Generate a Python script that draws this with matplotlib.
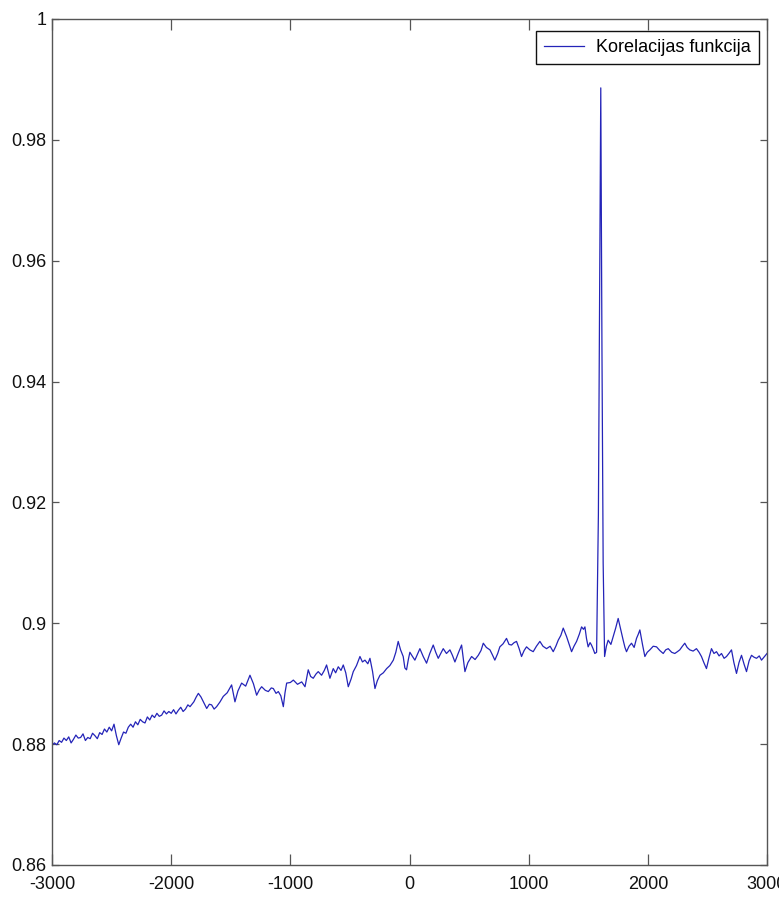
import matplotlib
matplotlib.use("Agg")
import matplotlib.pyplot as plt

plt.rcParams['font.family'] = ['Liberation Sans', 'DejaVu Sans']

# correlation function samples: lag and value, written in matching rows
lags = [
    -3000, -2980, -2960, -2940, -2920, -2900, -2880, -2860, -2840, -2820,
    -2800, -2780, -2760, -2740, -2720, -2700, -2680, -2660, -2640, -2620,
    -2600, -2580, -2560, -2540, -2520, -2500, -2480, -2460, -2440, -2420,
    -2400, -2380, -2360, -2340, -2320, -2300, -2280, -2260, -2240, -2220,
    -2200, -2180, -2160, -2140, -2120, -2100, -2080, -2060, -2040, -2020,
    -2000, -1980, -1960, -1940, -1920, -1900, -1880, -1860, -1842, -1810,
    -1790, -1772, -1750, -1725, -1702, -1680, -1661, -1640, -1619, -1590,
    -1563, -1530, -1493, -1465, -1440, -1409, -1375, -1339, -1310, -1283,
    -1260, -1241, -1210, -1185, -1160, -1143, -1120, -1101, -1080, -1059,
    -1045, -1031, -1000, -975, -940, -905, -877, -850, -830, -808,
    -785, -766, -738, -715, -696, -668, -640, -620, -598, -575,
    -556, -535, -514, -490, -472, -445, -416, -395, -374, -350,
    -332, -310, -290, -270, -248, -220, -192, -165, -136, -115,
    -95, -75, -53, -39, -25, -10, 3, 25, 45, 65,
    87, 115, 143, 170, 199, 220, 241, 262, 283, 310,
    339, 360, 381, 410, 437, 465, 490, 521, 550, 577,
    600, 619, 645, 675, 695, 716, 740, 758, 785, 814,
    835, 856, 878, 898, 920, 940, 962, 982, 1010, 1038,
    1065, 1094, 1120, 1150, 1180, 1206, 1228, 1248, 1270, 1290,
    1318, 1340, 1360, 1380, 1402, 1425, 1444, 1460, 1472, 1485,
    1499, 1515, 1527, 1540, 1555, 1570, 1585, 1595, 1605, 1615,
    1625, 1637, 1652, 1667, 1690, 1709, 1730, 1751, 1772, 1793,
    1808, 1821, 1842, 1863, 1885, 1905, 1920, 1933, 1955, 1975,
    1995, 2017, 2045, 2073, 2100, 2129, 2150, 2171, 2200, 2226,
    2248, 2268, 2290, 2310, 2330, 2352, 2380, 2408, 2430, 2450,
    2470, 2492, 2512, 2534, 2555, 2576, 2598, 2618, 2640, 2660,
    2680, 2702, 2722, 2744, 2765, 2786, 2808, 2828, 2850, 2870,
    2890, 2912, 2935, 2954, 2975, 3000,
]
corr = [
    0.8798, 0.8802, 0.8799, 0.8806, 0.8803, 0.8810, 0.8806, 0.8812, 0.8802, 0.8808,
    0.8815, 0.8810, 0.8811, 0.8817, 0.8806, 0.8811, 0.8809, 0.8818, 0.8814, 0.8809,
    0.8819, 0.8816, 0.8825, 0.8820, 0.8828, 0.8822, 0.8833, 0.8814, 0.8799, 0.8810,
    0.8820, 0.8818, 0.8828, 0.8833, 0.8828, 0.8837, 0.8832, 0.8841, 0.8837, 0.8835,
    0.8845, 0.8840, 0.8848, 0.8844, 0.8851, 0.8846, 0.8848, 0.8855, 0.8850, 0.8854,
    0.8851, 0.8857, 0.8850, 0.8856, 0.8861, 0.8854, 0.8858, 0.8865, 0.8862, 0.8870,
    0.8878, 0.8884, 0.8878, 0.8868, 0.8859, 0.8866, 0.8865, 0.8858, 0.8862, 0.8870,
    0.8879, 0.8885, 0.8898, 0.8870, 0.8888, 0.8901, 0.8896, 0.8914, 0.8900, 0.8881,
    0.8890, 0.8895, 0.8889, 0.8887, 0.8893, 0.8892, 0.8884, 0.8887, 0.8880, 0.8862,
    0.8885, 0.8901, 0.8902, 0.8906, 0.8899, 0.8903, 0.8895, 0.8923, 0.8912, 0.8909,
    0.8916, 0.8920, 0.8914, 0.8922, 0.8931, 0.8909, 0.8925, 0.8918, 0.8928, 0.8922,
    0.8931, 0.8918, 0.8895, 0.8908, 0.8920, 0.8930, 0.8945, 0.8936, 0.8939, 0.8933,
    0.8942, 0.8920, 0.8892, 0.8905, 0.8914, 0.8918, 0.8925, 0.8930, 0.8939, 0.8952,
    0.8970, 0.8956, 0.8945, 0.8926, 0.8923, 0.8940, 0.8952, 0.8945, 0.8939, 0.8948,
    0.8958, 0.8945, 0.8934, 0.8950, 0.8964, 0.8952, 0.8942, 0.8950, 0.8958, 0.8950,
    0.8956, 0.8947, 0.8936, 0.8951, 0.8964, 0.8920, 0.8935, 0.8945, 0.8940, 0.8947,
    0.8955, 0.8967, 0.8960, 0.8956, 0.8948, 0.8939, 0.8950, 0.8961, 0.8966, 0.8975,
    0.8965, 0.8964, 0.8968, 0.8970, 0.8958, 0.8945, 0.8955, 0.8961, 0.8956, 0.8953,
    0.8962, 0.8970, 0.8962, 0.8958, 0.8962, 0.8953, 0.8962, 0.8972, 0.8980, 0.8992,
    0.8978, 0.8965, 0.8953, 0.8962, 0.8970, 0.8982, 0.8994, 0.8990, 0.8994, 0.8975,
    0.8961, 0.8968, 0.8964, 0.8958, 0.8950, 0.8952, 0.9180, 0.9550, 0.9886, 0.9450,
    0.9100, 0.8945, 0.8962, 0.8972, 0.8965, 0.8978, 0.8992, 0.9008, 0.8990, 0.8972,
    0.8960, 0.8953, 0.8962, 0.8967, 0.8960, 0.8975, 0.8982, 0.8989, 0.8965, 0.8945,
    0.8952, 0.8956, 0.8962, 0.8961, 0.8955, 0.8950, 0.8956, 0.8958, 0.8952, 0.8950,
    0.8953, 0.8956, 0.8962, 0.8967, 0.8960, 0.8956, 0.8954, 0.8958, 0.8952, 0.8945,
    0.8935, 0.8925, 0.8942, 0.8958, 0.8950, 0.8953, 0.8946, 0.8950, 0.8942, 0.8945,
    0.8950, 0.8956, 0.8935, 0.8917, 0.8935, 0.8947, 0.8932, 0.8920, 0.8938, 0.8947,
    0.8944, 0.8942, 0.8946, 0.8939, 0.8944, 0.8950,
]

x_ticks = [-3000, -2000, -1000, 0, 1000, 2000, 3000]
y_ticks = [0.86, 0.88, 0.90, 0.92, 0.94, 0.96, 0.98, 1.00]
y_ticklabels = ['0.86', '0.88', '0.9', '0.92', '0.94', '0.96', '0.98', '1']

fig = plt.figure(figsize=(7.79, 9.0), dpi=100)
ax = fig.add_axes([0.0668, 0.0389, 0.9178, 0.94])

ax.plot(lags, corr, color='#2424b8', linewidth=0.9, label='Korelacijas funkcija')

ax.set_xlim(-3000, 3000)
ax.set_ylim(0.86, 1.0)
ax.set_xticks(x_ticks)
ax.set_xticklabels([str(t) for t in x_ticks])
ax.set_yticks(y_ticks)
ax.set_yticklabels(y_ticklabels)

for s in ax.spines.values():
    s.set_color('#555555')
    s.set_linewidth(1.0)

ax.tick_params(axis='both', direction='in', colors='#555555', labelcolor='#111111',
               labelsize=13, top=True, right=True, width=0.9)
ax.tick_params(axis='x', length=8, pad=8)
ax.tick_params(axis='y', length=5, pad=4)

leg = ax.legend(loc='upper right', bbox_to_anchor=(0.989, 0.986), borderaxespad=0,
                fancybox=False, framealpha=1, edgecolor='#111111', fontsize=13,
                handlelength=2.2, handletextpad=0.7, borderpad=0.45)
leg.get_frame().set_linewidth(1.0)

fig.savefig('out.png', dpi=100)
